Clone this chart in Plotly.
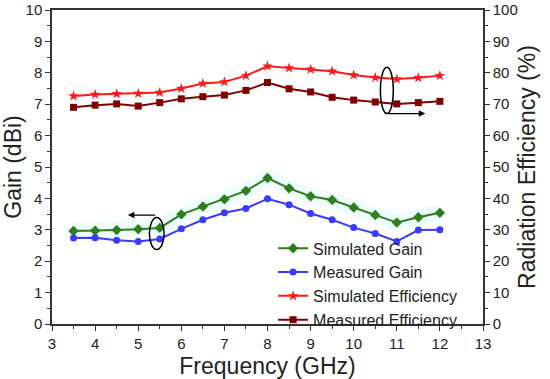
import plotly.graph_objects as go

freq = [3.5, 4, 4.5, 5, 5.5, 6, 6.5, 7, 7.5, 8, 8.5, 9, 9.5, 10, 10.5, 11, 11.5, 12]
sim_gain = [2.96, 2.97, 2.99, 3.02, 3.06, 3.49, 3.74, 3.97, 4.24, 4.65, 4.32, 4.07, 3.95, 3.71, 3.47, 3.23, 3.40, 3.54]
meas_gain = [2.74, 2.75, 2.67, 2.63, 2.71, 3.03, 3.32, 3.54, 3.68, 3.99, 3.80, 3.52, 3.32, 3.07, 2.88, 2.63, 2.99, 3.00]
sim_eff = [72.6, 73.1, 73.3, 73.4, 73.7, 75.0, 76.6, 77.1, 79.1, 82.1, 81.5, 81.1, 80.5, 79.3, 78.5, 78.0, 78.4, 79.1]
meas_eff = [69.0, 69.7, 70.1, 69.4, 70.5, 71.7, 72.4, 72.9, 74.4, 76.9, 74.9, 73.9, 72.2, 71.3, 70.7, 70.1, 70.5, 70.9]

FONT = "Liberation Sans, Arial, sans-serif"

fig = go.Figure()
# faint glow behind gain curves
fig.add_trace(go.Scatter(x=freq, y=sim_gain, mode="lines", showlegend=False, hoverinfo="skip",
                         line=dict(color="rgba(200,250,245,0.35)", width=16)))
fig.add_trace(go.Scatter(x=freq, y=sim_gain, name="Simulated Gain", mode="lines+markers",
                         line=dict(color="#2E7D1E", width=2),
                         marker=dict(symbol="diamond", size=8, color="#2E7D1E")))
fig.add_trace(go.Scatter(x=freq, y=meas_gain, name="Measured Gain", mode="lines+markers",
                         line=dict(color="#3A3AFF", width=2),
                         marker=dict(symbol="circle", size=7, color="#3A3AFF")))
fig.add_trace(go.Scatter(x=freq, y=sim_eff, name="Simulated Efficiency", mode="lines+markers",
                         yaxis="y2", line=dict(color="#FF1A1A", width=2),
                         marker=dict(symbol="star", size=8, color="#FF1A1A")))
fig.add_trace(go.Scatter(x=freq, y=meas_eff, name="Measured Efficiency", mode="lines+markers",
                         yaxis="y2", line=dict(color="#7F0000", width=2),
                         marker=dict(symbol="square", size=7, color="#7F0000")))

axis_common = dict(showline=True, linecolor="#333", linewidth=1.5, ticks="outside",
                   ticklen=5, tickcolor="#333", showgrid=False, zeroline=False, automargin=False,
                   tickfont=dict(family=FONT, size=15, color="#222"))
title_font = dict(family=FONT, size=23, color="#222")

fig.update_layout(
    width=550, height=379,
    margin=dict(l=52, r=67, t=10, b=55),
    plot_bgcolor="white", paper_bgcolor="white",
    showlegend=True,
    legend=dict(x=0.513, y=0.295, xanchor="left", yanchor="top",
                bgcolor="rgba(0,0,0,0)", font=dict(family=FONT, size=16, color="#222"),
                tracegroupgap=0, itemwidth=30),
    xaxis=dict(range=[3, 13], dtick=1, mirror=True,
               minor=dict(dtick=0.5, ticks="outside", ticklen=3, tickcolor="#333"),
               title=dict(text="Frequency (GHz)", font=title_font, standoff=7),
               **axis_common),
    yaxis=dict(range=[0, 10], dtick=1,
               minor=dict(dtick=0.5, ticks="outside", ticklen=3, tickcolor="#333"),
               title=dict(text="Gain (dBi)", font=title_font, standoff=4),
               **axis_common),
    yaxis2=dict(range=[0, 100], dtick=10, overlaying="y", side="right",
                minor=dict(dtick=5, ticks="outside", ticklen=3, tickcolor="#333"),
                title=dict(text="Radiation Efficiency (%)", font=title_font, standoff=2),
                **axis_common),
)

# ellipses
fig.add_shape(type="circle", xref="x", yref="y", x0=5.26, x1=5.6, y0=2.37, y1=3.39,
              line=dict(color="black", width=1.5))
fig.add_shape(type="circle", xref="x", yref="y", x0=10.62, x1=10.92, y0=6.70, y1=8.18,
              line=dict(color="black", width=1.5))
# arrows
fig.add_annotation(x=4.76, y=3.47, ax=5.43, ay=3.47, xref="x", yref="y", axref="x", ayref="y",
                   showarrow=True, arrowhead=2, arrowsize=1, arrowwidth=1.3, arrowcolor="black", text="")
fig.add_annotation(x=11.66, y=6.70, ax=10.77, ay=6.70, xref="x", yref="y", axref="x", ayref="y",
                   showarrow=True, arrowhead=2, arrowsize=1, arrowwidth=1.3, arrowcolor="black", text="")

fig.write_html("out.html", config={"displayModeBar": False},
               post_script="document.body.style.margin='0';document.body.style.overflow='hidden';")
